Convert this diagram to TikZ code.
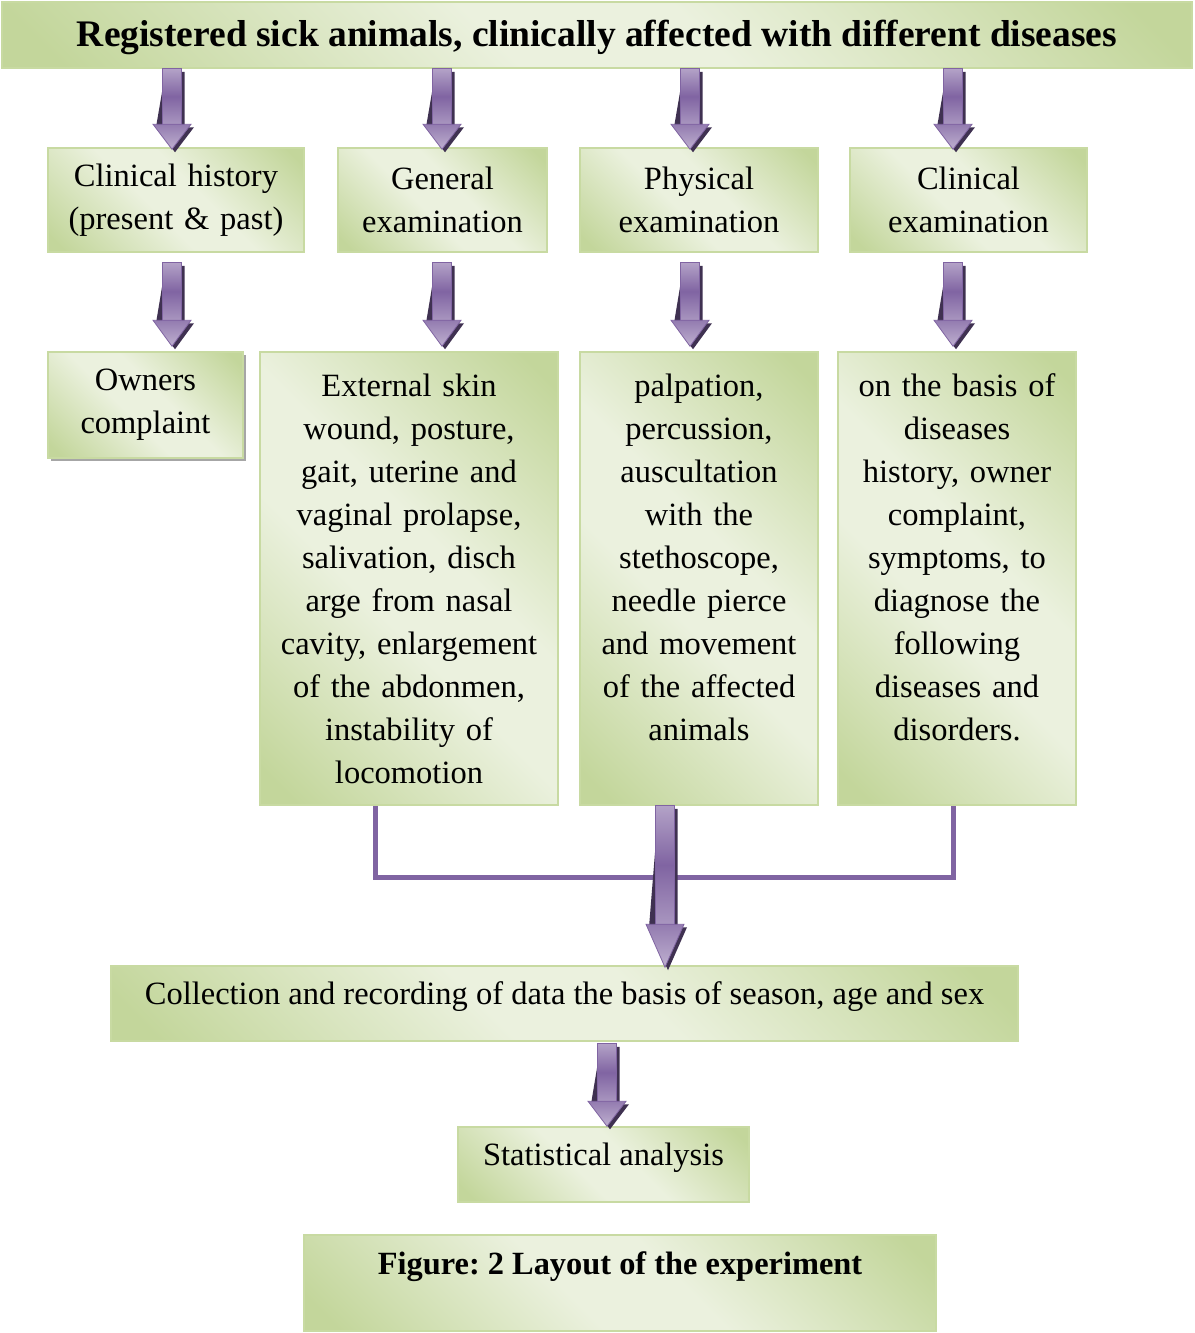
\documentclass[tikz,border=0pt]{standalone}
\usepackage{fontspec}
\setmainfont{Liberation Serif}
\usetikzlibrary{shadows}
\frenchspacing
\definecolor{gD}{HTML}{C3D69B}
\definecolor{gL}{HTML}{EBF1DE}
\definecolor{gB}{HTML}{C8DAA2}
\definecolor{pD}{HTML}{8064A2}
\definecolor{pL}{HTML}{B3A2C7}
\definecolor{pS}{HTML}{3F3151}
\pgfdeclarehorizontalshading{gband}{100bp}{color(0bp)=(gD); color(18bp)=(gD); color(44bp)=(gL); color(56bp)=(gL); color(82bp)=(gD); color(100bp)=(gD)}
\newdimen\ArrYa \newdimen\ArrYb \newdimen\ArrYh
% #1 x, #2 from node, #3 gap below its south, #4 to node, #5 overlap past its north, #6 head length
\newcommand\barrow[6]{%
  \pgfextracty{\ArrYa}{\pgfpointanchor{#2}{south}}\advance\ArrYa by -#3pt\relax
  \pgfextracty{\ArrYb}{\pgfpointanchor{#4}{north}}\advance\ArrYb by -#5pt\relax
  \ArrYh=\ArrYb \advance\ArrYh by #6pt\relax
  \fill[pS] (#1pt-6.5pt,\ArrYa-3pt) -- (#1pt+12.5pt,\ArrYa-3pt) -- (#1pt+12.5pt,\ArrYh-3pt) -- (#1pt+22pt,\ArrYh-3pt) -- (#1pt+3pt,\ArrYb-3pt) -- (#1pt-16pt,\ArrYh-3pt) -- cycle;
  \shade[top color=pL, bottom color=pL!80!pD, middle color=pD, draw=pD, line width=0.8pt] (#1pt-9.5pt,\ArrYa) rectangle (#1pt+9.5pt,\ArrYh);
  \shade[top color=pD!85, bottom color=pL!85, draw=pD, line width=0.8pt] (#1pt-19pt,\ArrYh) -- (#1pt+19pt,\ArrYh) -- (#1pt,\ArrYb) -- cycle;
}
\tikzset{
  box/.style={draw=gB, line width=1.5pt, shade, shading=gband, shading angle=45, align=center,
    inner sep=0pt, font=\fontsize{32.5}{43}\selectfont},
  conn/.style={draw=pD, line width=5pt}
}
\begin{document}
\begin{tikzpicture}[x=1pt,y=-1pt]
\useasboundingbox (0,0) rectangle (1194,1333);
\node[box, minimum width=1190, minimum height=66, text height=32pt, font=\fontsize{37.5}{40}\selectfont\bfseries] (title) at (597,35)
  {Registered sick animals, clinically affected with different diseases};
\node[box, minimum width=256, minimum height=104, text width=250] (ch) at (176,200) {Clinical history\\(present \& past)};
\node[box, minimum width=209, minimum height=104, text width=203] (ge) at (442.5,200) {General\\examination};
\node[box, minimum width=238, minimum height=104, text width=232] (pe) at (699,200) {Physical\\examination};
\node[box, minimum width=237, minimum height=104, text width=231] (ce) at (968.5,200) {Clinical\\examination};
\node[box, minimum width=195, minimum height=106, text width=189,
  drop shadow={shadow xshift=3pt, shadow yshift=-3pt, fill=black!35, opacity=1}] (oc) at (145.5,405) {Owners\\complaint};
\node[box, minimum width=298, minimum height=453, text width=294] (es) at (409,578.5)
  {External skin\\wound, posture,\\gait, uterine and\\vaginal prolapse,\\salivation, disch\\arge from nasal\\cavity, enlargement\\of the abdonmen,\\instability of\\locomotion};
\node[box, minimum width=238, minimum height=453, text width=234] (pa) at (699,578.5)
  {palpation,\\percussion,\\auscultation\\with the\\stethoscope,\\needle pierce\\and movement\\of the affected\\animals\\\mbox{}};
\node[box, minimum width=238, minimum height=453, text width=234] (ob) at (957,578.5)
  {on the basis of\\diseases\\history, owner\\complaint,\\symptoms, to\\diagnose the\\following\\diseases and\\disorders.\\\mbox{}};
\node[box, minimum width=907, minimum height=75, text depth=21pt] (co) at (564.5,1003.5)
  {Collection and recording of data the basis of season, age and sex};
\node[box, minimum width=291, minimum height=75, text depth=21pt] (st) at (603.5,1164.5) {Statistical analysis};
\node[box, minimum width=632, minimum height=96, text depth=39pt, font=\fontsize{32.4}{38}\selectfont\bfseries] (fig) at (620,1283)
  {Figure: 2 Layout of the experiment};
% arrows row 1
\barrow{172}{title}{0}{ch}{2}{25}
\barrow{442}{title}{0}{ge}{2}{25}
\barrow{690}{title}{0}{pe}{2}{25}
\barrow{953}{title}{0}{ce}{2}{25}
% arrows row 2
\barrow{172}{ch}{10}{oc}{-5}{26}
\barrow{442}{ge}{10}{es}{-5}{26}
\barrow{690}{pe}{10}{pa}{-5}{26}
\barrow{953}{ce}{10}{ob}{-5}{26}
% collector
\draw[conn] ([xshift=-34pt]es.south) -- ++(0,72) -| ([xshift=-4pt]ob.south);
\barrow{665}{pa}{0}{co}{2}{43}
\barrow{607}{co}{2}{st}{0}{25}
\end{tikzpicture}
\end{document}
